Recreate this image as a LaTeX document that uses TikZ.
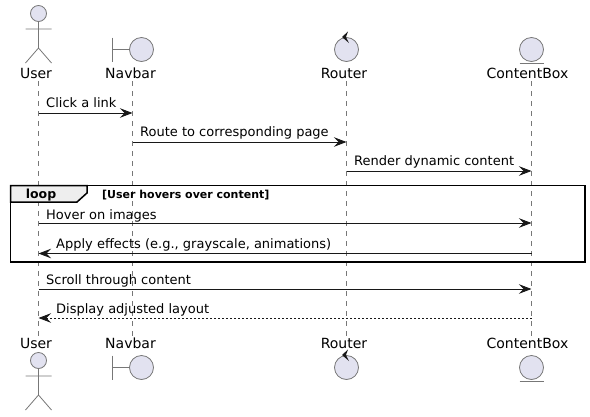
\documentclass[tikz,border=0pt]{standalone}
\usepackage{fontspec}
\setmainfont{DejaVu Sans}
\usetikzlibrary{arrows.meta}
\definecolor{partfill}{HTML}{E2E2F0}
\definecolor{partline}{HTML}{181818}
\definecolor{softline}{HTML}{777777}
\definecolor{tabfill}{HTML}{EEEEEE}
\tikzset{
  x=1pt,y=-1pt,
  part/.style={draw=softline,line width=0.8pt,fill=partfill},
  partstroke/.style={draw=softline,line width=0.8pt},
  life/.style={draw=softline,line width=0.8pt,dash pattern=on 5pt off 5pt},
  tipA/.style={-{Stealth[length=12.5pt,width=9.5pt,inset=4.5pt,color=partline]}},
  msg/.style={draw=partline,line width=0.9pt,tipA},
  ret/.style={draw=partline,line width=0.9pt,tipA,dash pattern=on 2pt off 2pt},
  plabel/.style={anchor=base,inner sep=0pt,font=\fontsize{14}{16}\selectfont,text=black},
  mlabel/.style={anchor=base west,inner sep=0pt,font=\fontsize{13}{15}\selectfont,text=black},
  frameb/.style={draw=black,line width=1.5pt},
}
\newcommand{\actorfig}[2]{%
  \draw[part] (#1,#2+13.5) circle[radius=8];
  \draw[partstroke] (#1,#2+21.5) -- (#1,#2+48) (#1-13,#2+29) -- (#1+13,#2+29)
    (#1-13,#2+63) -- (#1,#2+48) -- (#1+13,#2+63);
}
\newcommand{\boundfig}[2]{%
  \draw[partstroke] (#1-20,#2+37.5) -- (#1-20,#2+61.5) (#1-20,#2+49.5) -- (#1-3,#2+49.5);
  \draw[part] (#1+9,#2+49.5) circle[radius=12];
}
\newcommand{\ctrlfig}[2]{%
  \draw[part] (#1,#2+49.5) circle[radius=12];
  \fill[partline] (#1+1.5,#2+31.5) -- (#1-4.5,#2+37) -- (#1+2.5,#2+43) -- (#1-0.5,#2+37) -- cycle;
}
\newcommand{\entfig}[2]{%
  \draw[part] (#1,#2+49.5) circle[radius=12];
  \draw[partstroke] (#1-12,#2+63) -- (#1+12,#2+63);
}
\begin{document}
\begin{tikzpicture}
\useasboundingbox (0,0) rectangle (590,416);
% lifeline ends
\coordinate (ut) at (38.5,81); \coordinate (ub) at (38.5,336);
\coordinate (nt) at (132.5,81); \coordinate (nb) at (132.5,336);
\coordinate (rt) at (346.5,81); \coordinate (rb) at (346.5,336);
\coordinate (ct) at (531.5,81); \coordinate (cb) at (531.5,336);
\draw[life] (ut) -- (ub);
\draw[life] (nt) -- (nb);
\draw[life] (rt) -- (rb);
\draw[life] (ct) -- (cb);
% participants
\actorfig{38.5}{0}
\boundfig{132.5}{0}
\ctrlfig{346.5}{0}
\entfig{531.5}{0}
\node[plabel] (userT) at (36,78) {User};
\node[plabel] (navT) at (130.5,78) {Navbar};
\node[plabel] (routT) at (344,78) {Router};
\node[plabel] (contT) at (527.5,78) {ContentBox};
\actorfig{38.5}{347}
\boundfig{132.5}{318}
\ctrlfig{346.5}{318}
\entfig{531.5}{318}
\node[plabel] (userB) at (36,348) {User};
\node[plabel] (navB) at (130.5,348) {Navbar};
\node[plabel] (routB) at (344,348) {Router};
\node[plabel] (contB) at (527.5,348) {ContentBox};
% loop frame
\draw[frameb] (10.5,185.5) rectangle (585,262);
\draw[frameb,fill=tabfill] (10.5,185.5) -- (87,185.5) -- (87,193) -- (77,202) -- (10.5,202) -- cycle;
\node[anchor=base,inner sep=0pt,font=\fontsize{12.5}{15}\selectfont\bfseries] (looplab) at (41,198.5) {loop};
\node[anchor=base west,inner sep=0pt,font=\fontsize{11}{13}\selectfont\bfseries] (loopcond) at (102,198) {[User hovers over content]};
% message anchors
\coordinate (u1) at (38.5,113); \coordinate (n1) at (132.5,113);
\coordinate (n2) at (132.5,142); \coordinate (r2) at (346.5,142);
\coordinate (r3) at (346.5,171); \coordinate (c3) at (531.5,171);
\coordinate (u4) at (38.5,223); \coordinate (c4) at (531.5,223);
\coordinate (c5) at (531.5,253.5); \coordinate (u5) at (38.5,253.5);
\coordinate (u6) at (38.5,289); \coordinate (c6) at (531.5,289);
\coordinate (c7) at (531.5,318); \coordinate (u7) at (38.5,318);
\draw[msg] (u1) -- (n1);
\draw[msg] (n2) -- (r2);
\draw[msg] (r3) -- (c3);
\draw[msg] (u4) -- (c4);
\draw[msg] (c5) -- (u5);
\draw[msg] (u6) -- (c6);
\draw[ret] (c7) -- (u7);
\node[mlabel] (m1) at (46,107) {Click a link};
\node[mlabel] (m2) at (140,136) {Route to corresponding page};
\node[mlabel] (m3) at (354,165.5) {Render dynamic content};
\node[mlabel] (m4) at (46,219) {Hover on images};
\node[mlabel] (m5) at (56,248) {Apply effects (e.g., grayscale, animations)};
\node[mlabel] (m6) at (46,284) {Scroll through content};
\node[mlabel] (m7) at (56,313.5) {Display adjusted layout};
\end{tikzpicture}
\end{document}
